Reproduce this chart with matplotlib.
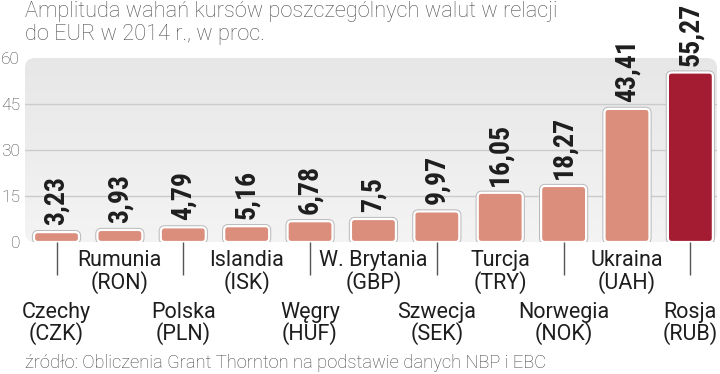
import matplotlib
matplotlib.use("Agg")
import matplotlib.pyplot as plt
import numpy as np
from matplotlib.patches import FancyBboxPatch

COND = ["Roboto Condensed", "DejaVu Sans"]
REG = ["Roboto", "DejaVu Sans"]

countries = ["Czechy", "Rumunia", "Polska", "Islandia", "Węgry", "W. Brytania",
             "Szwecja", "Turcja", "Norwegia", "Ukraina", "Rosja"]
codes = ["CZK", "RON", "PLN", "ISK", "HUF", "GBP", "SEK", "TRY", "NOK", "UAH", "RUB"]
values = [3.23, 3.93, 4.79, 5.16, 6.78, 7.5, 9.97, 16.05, 18.27, 43.41, 55.27]
value_labels = ["3,23", "3,93", "4,79", "5,16", "6,78", "7,5", "9,97", "16,05", "18,27", "43,41", "55,27"]
yticks = [0, 15, 30, 45, 60]
title = "Amplituda wahań kursów poszczególnych walut w relacji\ndo EUR w 2014 r., w proc."
source = "źródło: Obliczenia Grant Thornton na podstawie danych NBP i EBC"

W, H = 720, 374
fig = plt.figure(figsize=(W / 100, H / 100), dpi=100)
ax_l, ax_r, ax_top, ax_bot = 25, 717, 58, 242
ax = fig.add_axes([ax_l / W, 1 - ax_bot / H, (ax_r - ax_l) / W, (ax_bot - ax_top) / H])
x = np.arange(len(values))
xmin, xmax = -0.497, 10.42
ax.set_xlim(xmin, xmax)
ax.set_ylim(0, 60)
for s in ax.spines.values():
    s.set_visible(False)
ax.patch.set_alpha(0)

# background with gradient and rounded corners
px_x = (ax_r - ax_l) / (xmax - xmin)
px_y = (ax_bot - ax_top) / 60.0
aspect = px_x / px_y
bg = FancyBboxPatch((xmin, 0), xmax - xmin, 60,
                    boxstyle=f"round,pad=0,rounding_size={10 / px_x}",
                    mutation_aspect=aspect, facecolor="none", edgecolor="none",
                    transform=ax.transData, zorder=0)
ax.add_patch(bg)
grad = np.linspace(0, 1, 100).reshape(-1, 1)
c_top = np.array([0.905, 0.905, 0.905])
c_bot = np.array([0.955, 0.955, 0.955])
img = c_bot[None, None, :] * (1 - grad[..., None]) + c_top[None, None, :] * grad[..., None]
im = ax.imshow(img, extent=[xmin, xmax, 0, 60], origin="lower", aspect="auto", zorder=0)
im.set_clip_path(bg)

# gridlines
for yv in yticks[1:-1]:
    ax.axhline(yv, color="#cbcbcb", lw=1.0, zorder=1)

colors = ["#db8e7c"] * (len(values) - 1) + ["#a31c31"]
bars = ax.bar(x, values, width=0.71, color=colors)
for b, c in zip(bars, colors):
    b.set_visible(False)
    for ec, lw, z in [("#b8b8b8", 3.0, 2), ("white", 1.6, 3)]:
        p = FancyBboxPatch((b.get_x(), b.get_y()), b.get_width(), b.get_height(),
                           boxstyle=f"round,pad=0,rounding_size={4 / px_x}",
                           mutation_aspect=aspect, facecolor=c, edgecolor=ec,
                           lw=lw, zorder=z)
        ax.add_patch(p)

for xi, v, lab in zip(x, values, value_labels):
    ax.annotate(lab, (xi, v), xytext=(0, 5), textcoords="offset points",
                rotation=90, ha="center", va="bottom", fontsize=20,
                fontweight="bold", family=COND, color="#1e1e1e")

# y ticks
ax.set_yticks(yticks)
ax.set_yticklabels([str(t) for t in yticks], family=REG, fontweight="light",
                   fontsize=12.5, color="#444444")
ax.tick_params(axis="y", length=0, pad=3.5)

# x ticks: lower row as major (with long tick lines), upper row as minor
major = x[0::2]
minor = x[1::2]
ax.set_xticks(major)
ax.set_xticklabels([f"{countries[i]}\n({codes[i]})" for i in major])
ax.set_xticks(minor, minor=True)
ax.set_xticklabels([f"{countries[i]}\n({codes[i]})" for i in minor], minor=True)
ax.tick_params(axis="x", which="major", length=24, width=1.0, color="#555555",
               pad=19, labelsize=15.5, labelcolor="#1e1e1e")
ax.tick_params(axis="x", which="minor", length=0, pad=6,
               labelsize=15.5, labelcolor="#1e1e1e")
for t in ax.get_xticklabels(which="both"):
    t.set_family(REG)
    t.set_linespacing(0.98)

fig.text(25 / W, 1 - 1 / H, title, ha="left", va="top", fontsize=15.7,
         family=REG, fontweight="light", color="#505050", linespacing=1.15)
fig.text(25 / W, 1 - 363 / H, source, ha="left", va="center", fontsize=13.2,
         family=REG, fontweight="light", color="#444444")

fig.savefig("out.png", dpi=100)
